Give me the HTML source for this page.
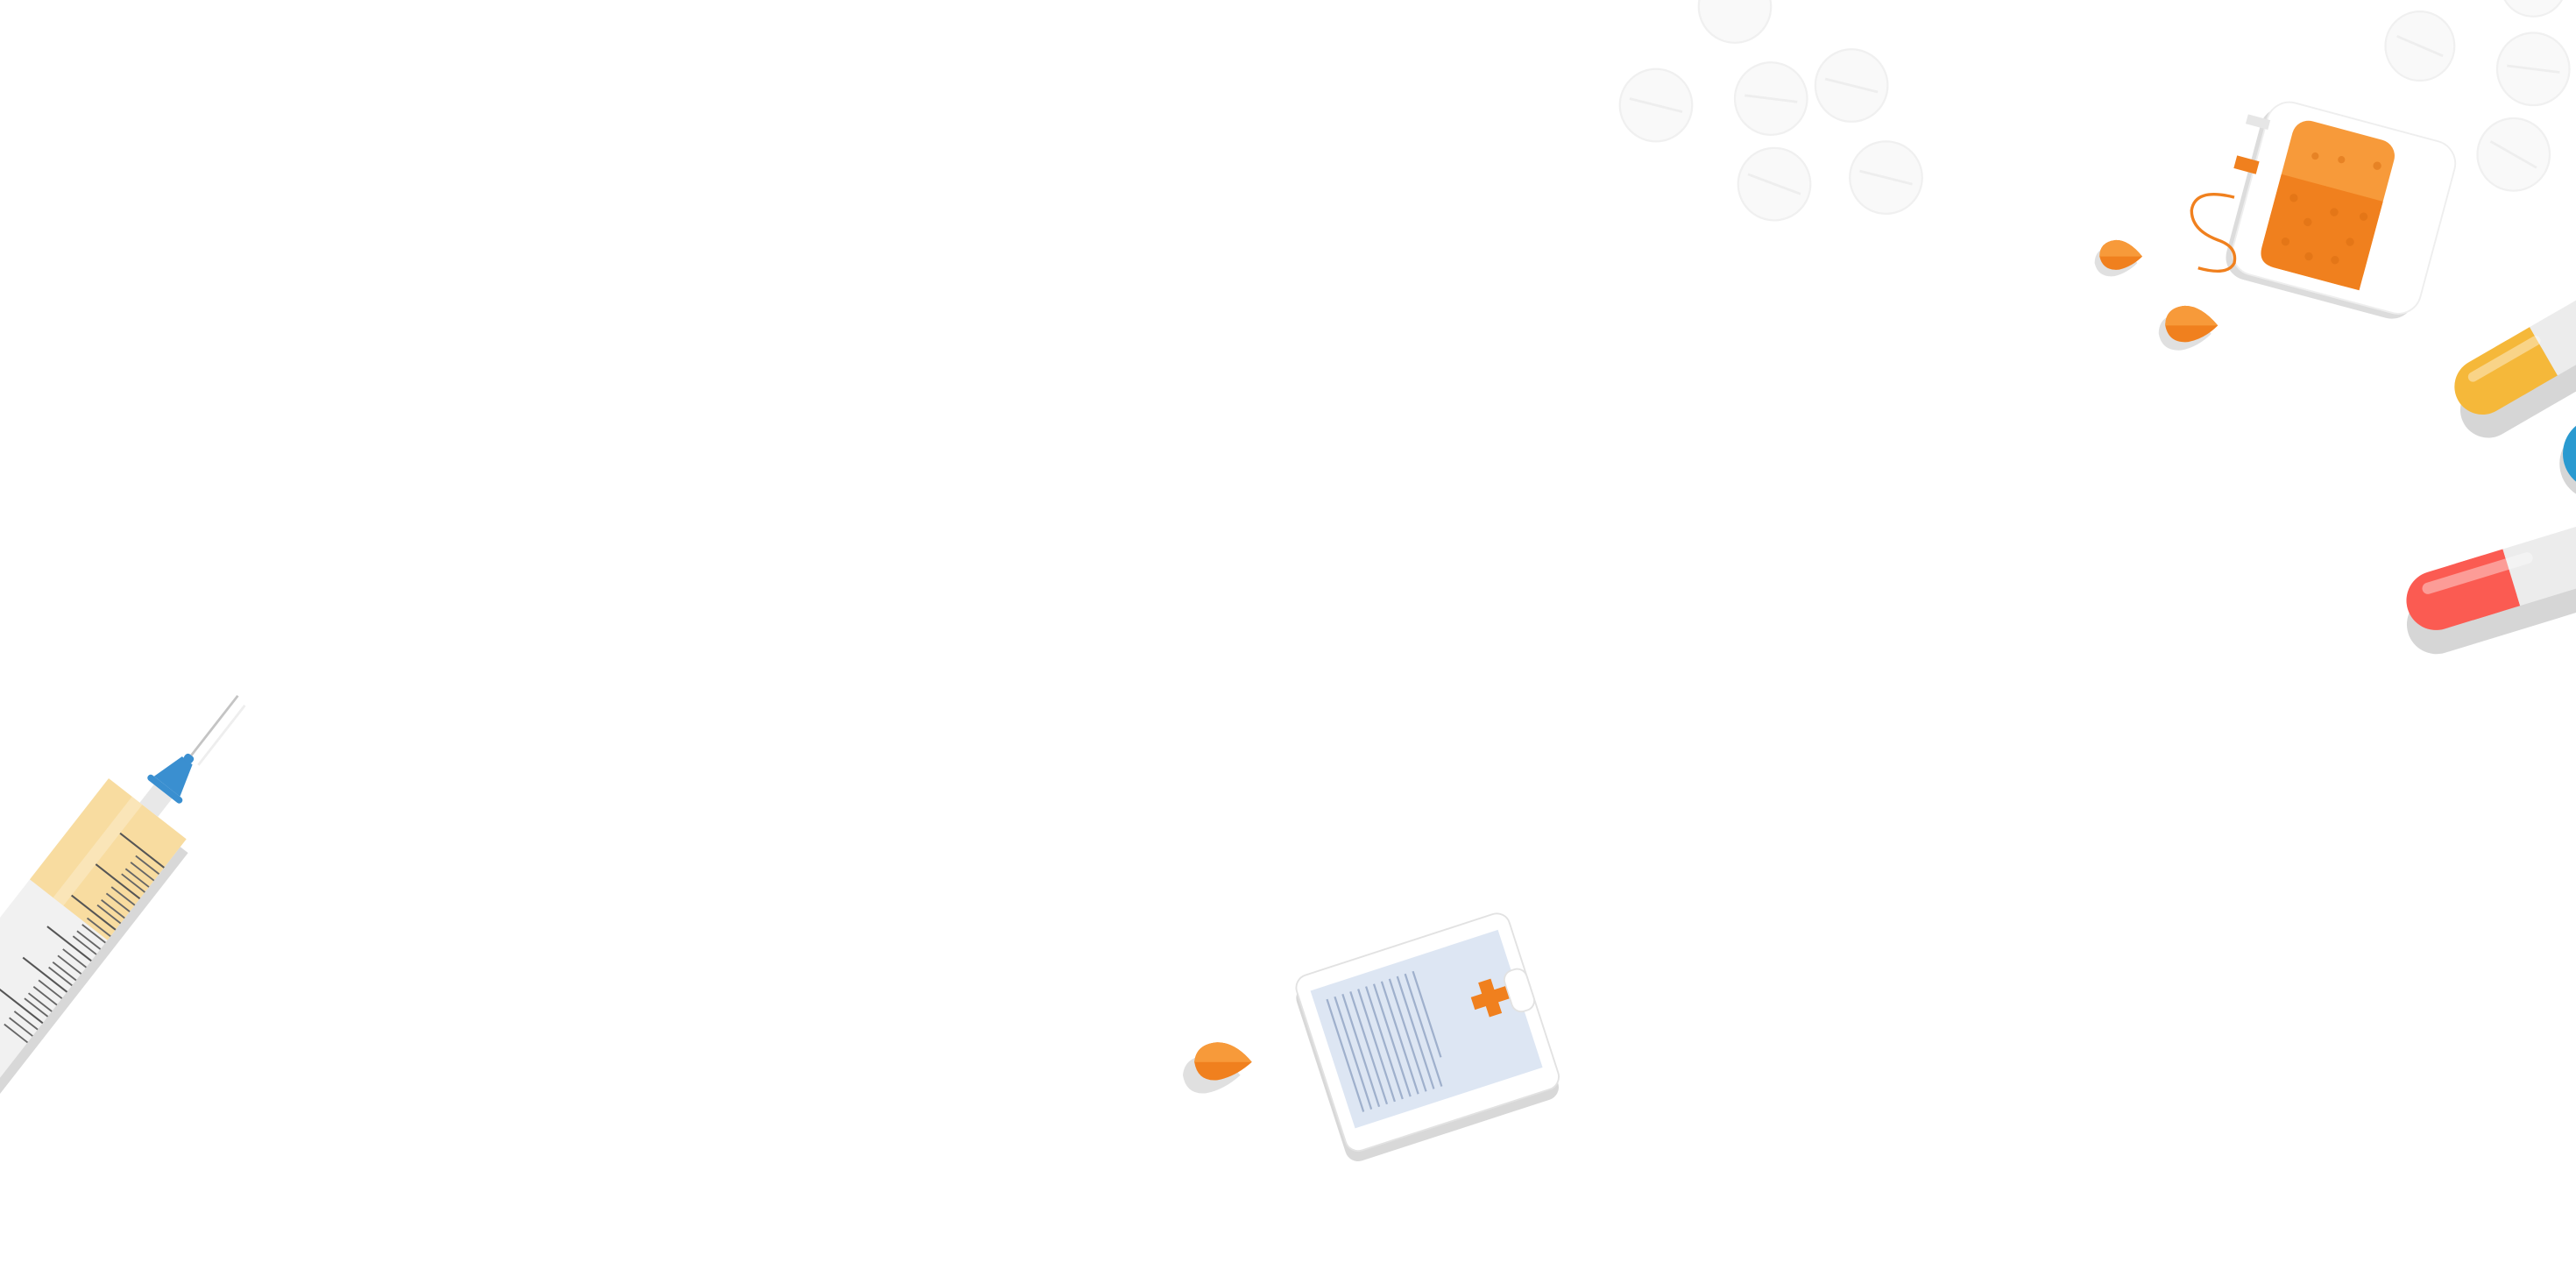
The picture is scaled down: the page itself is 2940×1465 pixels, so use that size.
<!DOCTYPE html>
<html><head><meta charset="utf-8"><style>
html,body{margin:0;padding:0;background:#fff;width:2940px;height:1465px;overflow:hidden}
svg{display:block}
</style></head><body>
<svg width="2940" height="1465" viewBox="0 0 1568 781" preserveAspectRatio="none" xmlns="http://www.w3.org/2000/svg">
<!-- pills -->
<g fill="#f9f9f9" stroke="#f0f0f0" stroke-width="1.2">
<circle cx="1056" cy="4" r="22"/><circle cx="1008" cy="64" r="22"/><circle cx="1078" cy="60" r="22"/>
<circle cx="1127" cy="52" r="22"/><circle cx="1080" cy="112" r="22"/><circle cx="1148" cy="108" r="22"/>
<circle cx="1473" cy="28" r="21"/><circle cx="1542" cy="42" r="22"/><circle cx="1530" cy="94" r="22"/>
<circle cx="1542" cy="-10" r="20"/>
</g>
<g stroke="#eeeeee" stroke-width="1.5">
<line x1="992" y1="60" x2="1024" y2="68"/><line x1="1062" y1="58" x2="1094" y2="62"/><line x1="1111" y1="48" x2="1143" y2="56"/>
<line x1="1064" y1="106" x2="1096" y2="118"/><line x1="1132" y1="104" x2="1164" y2="112"/><line x1="1459" y1="22" x2="1487" y2="34"/>
<line x1="1526" y1="40" x2="1558" y2="44"/><line x1="1516" y1="86" x2="1544" y2="102"/>
</g>
<!-- blood bag -->
<g transform="rotate(15 1425 125)">
<rect x="1368" y="72" width="118" height="108" rx="14" fill="#dcdcdc" transform="translate(-3 4)"/>
<rect x="1368" y="72" width="118" height="108" rx="14" fill="#fff" stroke="#eee"/>
<rect x="1385" y="80" width="64" height="92" rx="10" fill="#f79a3a"/>
<path d="M1385 116 H1449 V172 H1395 Q1385 172 1385 162Z" fill="#f0801e"/>
<g fill="#d96d12" opacity=".5">
<circle cx="1396" cy="128" r="2.5"/><circle cx="1408" cy="140" r="2.5"/><circle cx="1422" cy="130" r="2.5"/><circle cx="1436" cy="145" r="2.5"/>
<circle cx="1398" cy="155" r="2.5"/><circle cx="1414" cy="160" r="2.5"/><circle cx="1430" cy="158" r="2.5"/><circle cx="1440" cy="128" r="2.5"/>
<circle cx="1402" cy="100" r="2.2"/><circle cx="1418" cy="98" r="2.2"/><circle cx="1440" cy="96" r="2.5"/>
</g>
<rect x="1356" y="112" width="14" height="8" fill="#f0801e"/>
<rect x="1356" y="86" width="14" height="6" fill="#e6e6e6"/>
</g>
<path d="M1360 120 Q1336 114 1334 128 Q1334 140 1350 146 Q1362 150 1360 160 Q1356 168 1338 163" fill="none" stroke="#f0801e" stroke-width="1.8"/>
<!-- drops -->
<g>
<path d="M1304 156 Q1296 146 1288 146 Q1278 147 1278 156 Q1280 165 1290 164 Q1298 162 1304 156Z" fill="#e0e0e0" transform="translate(-3 4)"/>
<path d="M1304 156 Q1296 146 1288 146 Q1278 147 1278 156 Q1280 165 1290 164 Q1298 162 1304 156Z" fill="#f0801e"/>
<path d="M1304 156 Q1296 146 1288 146 Q1278 147 1278 156 Z" fill="#f79a3a"/>
<path d="M1350 198 Q1340 186 1330 186 Q1318 187 1318 198 Q1320 209 1332 208 Q1342 206 1350 198Z" fill="#e0e0e0" transform="translate(-4 5)"/>
<path d="M1350 198 Q1340 186 1330 186 Q1318 187 1318 198 Q1320 209 1332 208 Q1342 206 1350 198Z" fill="#f0801e"/>
<path d="M1350 198 Q1340 186 1330 186 Q1318 187 1318 198 Z" fill="#f79a3a"/>
<path d="M762 646 Q752 634 741 634 Q728 635 727 646 Q729 658 741 657 Q752 655 762 646Z" fill="#e0e0e0" transform="translate(-7 8)"/>
<path d="M762 646 Q752 634 741 634 Q728 635 727 646 Q729 658 741 657 Q752 655 762 646Z" fill="#f0801e"/>
<path d="M762 646 Q752 634 741 634 Q728 635 727 646 Z" fill="#f79a3a"/>
</g>
<!-- capsules -->
<g transform="rotate(-30 1530 230)">
<rect x="1494" y="214" width="120" height="34" rx="17" fill="#d6d6d6" transform="translate(-4 8)"/>
<rect x="1494" y="208" width="60" height="34" rx="17" fill="#f5b83a"/>
<rect x="1530" y="208" width="24" height="34" fill="#f5b83a"/>
<rect x="1554" y="208" width="60" height="34" fill="#ececec"/>
<rect x="1506" y="214" width="50" height="6" rx="3" fill="#fff" opacity=".4"/>
</g>
<g transform="rotate(-17 1500 360)">
<rect x="1464" y="348" width="140" height="36" rx="18" fill="#d6d6d6" transform="translate(-4 8)"/>
<rect x="1464" y="342" width="70" height="36" rx="18" fill="#fb5b52"/>
<rect x="1500" y="342" width="30" height="36" fill="#fb5b52"/>
<rect x="1530" y="342" width="80" height="36" fill="#ececec"/>
<rect x="1476" y="348" width="70" height="7" rx="3.5" fill="#fff" opacity=".4"/>
</g>
<circle cx="1580" cy="282" r="22" fill="#d6d6d6"/>
<circle cx="1582" cy="276" r="22" fill="#2a9ad0"/>
<!-- clipboard -->
<g transform="rotate(-18 868 625)">
<rect x="800" y="572" width="136" height="112" rx="8" fill="#d8d8d8" transform="translate(-2 6)"/>
<rect x="800" y="572" width="136" height="112" rx="8" fill="#fff" stroke="#e2e2e2"/>
<rect x="808" y="582" width="120" height="88" fill="#dde6f3"/>
<g stroke="#9fb0cc" stroke-width="1.2">
<line x1="816" y1="590" x2="816" y2="662"/><line x1="821" y1="590" x2="821" y2="662"/><line x1="826" y1="590" x2="826" y2="662"/>
<line x1="831" y1="590" x2="831" y2="662"/><line x1="836" y1="590" x2="836" y2="662"/><line x1="841" y1="590" x2="841" y2="662"/>
<line x1="846" y1="590" x2="846" y2="662"/><line x1="851" y1="590" x2="851" y2="662"/><line x1="856" y1="590" x2="856" y2="662"/>
<line x1="861" y1="590" x2="861" y2="662"/><line x1="866" y1="590" x2="866" y2="662"/><line x1="871" y1="590" x2="871" y2="645"/>
</g>
<rect x="922" y="608" width="14" height="26" rx="6" fill="#fff" stroke="#e2e2e2"/>
</g>
<g transform="rotate(-18 907 607)" fill="#f0801e">
<rect x="903" y="596" width="8" height="22"/><rect x="896" y="603" width="22" height="8"/>
</g>
<!-- syringe -->
<g transform="translate(-7 2) rotate(38 60 550)">
<rect x="78" y="486" width="10" height="260" fill="#d8d8d8"/>
<rect x="22" y="480" width="60" height="260" fill="#f1f1f1"/>
<rect x="22" y="480" width="60" height="78" fill="#f8dca0"/>
<rect x="40" y="480" width="8" height="78" fill="#fff" opacity=".25"/>
<g stroke="#555" stroke-width="1.1">
<line x1="48" y1="502" x2="82" y2="502"/><line x1="48" y1="526" x2="82" y2="526"/><line x1="48" y1="550" x2="82" y2="550"/>
<line x1="48" y1="574" x2="82" y2="574"/><line x1="48" y1="598" x2="82" y2="598"/><line x1="48" y1="622" x2="82" y2="622"/>
</g>
<g stroke="#666" stroke-width="1">
<line x1="64" y1="507" x2="82" y2="507"/><line x1="64" y1="512" x2="82" y2="512"/><line x1="64" y1="517" x2="82" y2="517"/><line x1="64" y1="521" x2="82" y2="521"/>
<line x1="64" y1="531" x2="82" y2="531"/><line x1="64" y1="536" x2="82" y2="536"/><line x1="64" y1="541" x2="82" y2="541"/><line x1="64" y1="545" x2="82" y2="545"/>
<line x1="64" y1="555" x2="82" y2="555"/><line x1="64" y1="560" x2="82" y2="560"/><line x1="64" y1="565" x2="82" y2="565"/><line x1="64" y1="569" x2="82" y2="569"/>
<line x1="64" y1="579" x2="82" y2="579"/><line x1="64" y1="584" x2="82" y2="584"/><line x1="64" y1="589" x2="82" y2="589"/><line x1="64" y1="593" x2="82" y2="593"/>
<line x1="64" y1="603" x2="82" y2="603"/><line x1="64" y1="608" x2="82" y2="608"/><line x1="64" y1="613" x2="82" y2="613"/><line x1="64" y1="617" x2="82" y2="617"/>
<line x1="64" y1="627" x2="82" y2="627"/><line x1="64" y1="632" x2="82" y2="632"/><line x1="64" y1="637" x2="82" y2="637"/>
</g>
<rect x="46" y="466" width="14" height="14" fill="#e8e8e8"/>
<rect x="40" y="462" width="26" height="4" rx="2" fill="#3a8fd0"/>
<path d="M43 462 L49 442 L57 442 L63 462 Z" fill="#3a8fd0"/>
<rect x="50" y="438" width="6" height="5" rx="2" fill="#3a8fd0"/>
<line x1="53" y1="438" x2="53" y2="392" stroke="#c4c4c4" stroke-width="1.5"/>
<line x1="60" y1="440" x2="60" y2="394" stroke="#eee" stroke-width="1.5"/>
</g>
</svg>
</body></html>
